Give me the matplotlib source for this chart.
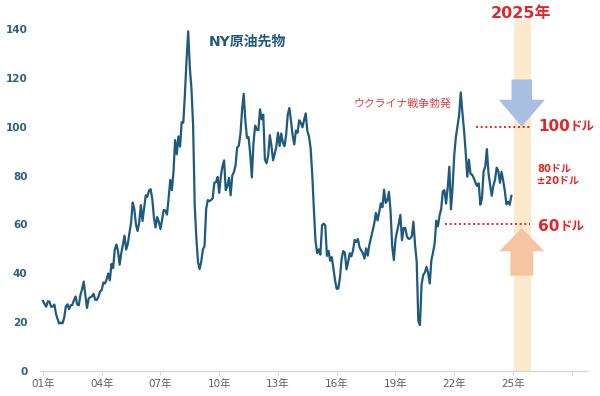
import numpy as np
import matplotlib
matplotlib.use("Agg")
import matplotlib.pyplot as plt
from matplotlib.patches import FancyArrow

plt.rcParams['font.family'] = ['DejaVu Sans', 'Noto Sans CJK JP']

# ------------------------------------------------------------
# NY原油先物 (WTI) 月末終値, 2001年1月〜2024年12月

start_year = 2001

wti_2001_2008 = [
    28.7, 27.4, 26.3, 28.5, 28.4, 26.3, 26.4, 27.2, 23.4, 21.2, 19.4, 19.8,
    19.5, 21.7, 26.3, 27.3, 25.3, 26.9, 27.0, 29.0, 30.5, 27.2, 26.9, 31.2,
    33.5, 36.6, 31.0, 25.8, 29.6, 30.2, 30.5, 31.6, 29.2, 29.1, 30.4, 32.5,
    33.1, 36.2, 35.8, 37.4, 39.9, 37.1, 43.8, 42.1, 49.6, 51.8, 49.1, 43.5,
    48.2, 51.8, 55.4, 49.7, 52.0, 56.5, 60.6, 68.9, 66.2, 59.8, 57.3, 61.0,
    67.9, 61.4, 66.6, 71.9, 71.3, 73.9, 74.4, 70.3, 62.9, 58.7, 63.0, 61.1,
    58.1, 61.8, 65.9, 65.7, 64.0, 70.7, 78.2, 74.0, 81.7, 94.5, 88.7, 96.0,
    91.8, 101.8, 101.6, 113.5, 127.4, 139.0, 124.1, 115.5, 100.6, 67.8, 54.4, 44.6,
]

wti_2009_2016 = [
    41.7, 44.8, 49.7, 51.1, 66.3, 69.9, 69.5, 70.0, 70.6, 77.0, 77.3, 79.4,
    72.9, 79.7, 83.8, 86.2, 74.0, 75.6, 79.0, 71.9, 80.0, 81.4, 84.1, 91.4,
    92.2, 97.0, 106.7, 113.4, 102.7, 95.4, 95.7, 88.8, 79.2, 93.2, 100.4, 98.8,
    98.5, 107.1, 103.0, 104.9, 86.5, 85.0, 88.1, 96.5, 92.2, 86.2, 88.9, 91.8,
    97.5, 92.1, 97.2, 93.5, 92.0, 96.6, 105.0, 107.6, 102.3, 96.4, 92.7, 98.4,
    97.5, 102.6, 101.6, 99.7, 102.7, 105.4, 98.2, 96.0, 91.2, 80.5, 66.2, 53.3,
    48.2, 49.8, 47.6, 59.6, 60.3, 59.5, 47.1, 49.2, 45.1, 46.6, 41.7, 37.0,
    33.6, 33.8, 38.3, 45.9, 49.1, 48.3, 41.6, 44.7, 48.2, 46.9, 49.4, 53.7,
]

wti_2017_2024 = [
    52.8, 54.0, 50.6, 49.3, 48.3, 46.0, 50.2, 47.2, 51.7, 54.4, 57.4, 60.4,
    64.7, 61.6, 64.9, 68.6, 67.0, 74.2, 68.8, 69.8, 73.3, 65.3, 50.9, 45.4,
    53.8, 57.2, 60.1, 63.9, 53.5, 58.5, 58.6, 55.1, 54.1, 54.2, 55.2, 61.1,
    51.6, 44.8, 20.5, 18.8, 35.5, 39.3, 40.3, 42.6, 40.2, 35.8, 45.3, 48.5,
    52.2, 61.5, 59.2, 63.6, 66.3, 73.5, 74.0, 68.5, 75.0, 83.6, 66.2, 75.2,
    88.2, 95.7, 100.3, 104.7, 114.0, 105.8, 98.6, 89.6, 79.5, 86.5, 80.6, 80.3,
    78.9, 77.1, 75.7, 76.8, 68.1, 70.6, 81.8, 83.6, 90.8, 81.0, 76.0, 71.7,
    75.9, 78.3, 83.2, 81.9, 77.0, 81.5, 77.9, 73.6, 68.2, 69.3, 68.0, 71.7,
]

wti = np.array(wti_2001_2008 + wti_2009_2016 + wti_2017_2024)
months = start_year + np.arange(len(wti)) / 12

xtick_years = [2001, 2004, 2007, 2010, 2013, 2016, 2019, 2022, 2025, 2028]
xtick_labels = ["01年", "04年", "07年", "10年", "13年", "16年", "19年", "22年", "25年", ""]
ytick_values = [0, 20, 40, 60, 80, 100, 120, 140]

# 2025年の想定レンジ
range_high = 100
range_low = 60

red = "#e3262b"
navy = "#1e5a7d"

# ------------------------------------------------------------
# 描画

fig = plt.figure(figsize=(6, 3.96), dpi=100)
ax = fig.add_axes([40 / 600, 1 - 371 / 396, 548 / 600, 351.4 / 396])

ax.axvspan(2025.03, 2025.9, color="#fde9cb", zorder=0, lw=0)

ax.plot(months, wti, color=navy, lw=1.6, zorder=3)

ax.hlines(range_high, 2023.11, 2025.87, colors=red, linestyles=(0, (1, 1.4)), lw=1.4, zorder=4)
ax.hlines(range_low, 2021.53, 2025.87, colors=red, linestyles=(0, (1, 1.4)), lw=1.4, zorder=4)

# 矢印
ax.add_patch(FancyArrow(2025.45, 119.3, 0, -19.3, width=1.05, head_width=2.35,
                        head_length=11, length_includes_head=True,
                        color="#a9bfe2", lw=0, zorder=5))
ax.add_patch(FancyArrow(2025.45, 39.0, 0, 19.5, width=1.17, head_width=2.3,
                        head_length=9.5, length_includes_head=True,
                        color="#f7c4a1", lw=0, zorder=5))

# テキスト
ax.text(2009.48, 134.8, "NY原油先物", color=navy, fontsize=10, fontweight="bold",
        ha="left", va="center")
ax.text(2016.88, 109.4, "ウクライナ戦争勃発", color="#e8383d", fontsize=7.8,
        ha="left", va="center")
ax.text(2025.41, 146.3, "2025年", color=red, fontsize=11.5, fontweight="bold",
        ha="center", va="center", clip_on=False)

t100 = ax.text(2026.28, range_high, "100", color=red, fontsize=11, fontweight="bold",
               ha="left", va="center")
ax.annotate("ドル", xy=(1, 0.06), xycoords=t100, color=red, fontsize=9,
            fontweight="bold", ha="left", va="bottom")
t60 = ax.text(2026.28, 59, "60", color=red, fontsize=11, fontweight="bold",
              ha="left", va="center")
ax.annotate("ドル", xy=(1, 0.06), xycoords=t60, color=red, fontsize=9,
            fontweight="bold", ha="left", va="bottom")
ax.text(2026.23, 80.2, "80ドル\n±20ドル", color=red, fontsize=7.2, fontweight="bold",
        ha="left", va="center", linespacing=1.25)

# 軸
ax.set_xlim(2000.85, 2028.83)
ax.set_ylim(0, 143.8)
ax.set_xticks(xtick_years)
ax.set_xticklabels(xtick_labels)
ax.set_yticks(ytick_values)

for s in ["top", "right", "left"]:
    ax.spines[s].set_visible(False)
ax.spines["bottom"].set_color("#d9d9d9")
ax.spines["bottom"].set_linewidth(1)

ax.tick_params(axis="y", length=0, pad=9, labelsize=7.5, labelcolor="#2f5f80")
for lbl in ax.get_yticklabels():
    lbl.set_fontweight("bold")
ax.tick_params(axis="x", length=3, color="#d9d9d9", pad=3, labelsize=7.5,
               labelcolor="#606060")

fig.savefig("out.png", dpi=100)
